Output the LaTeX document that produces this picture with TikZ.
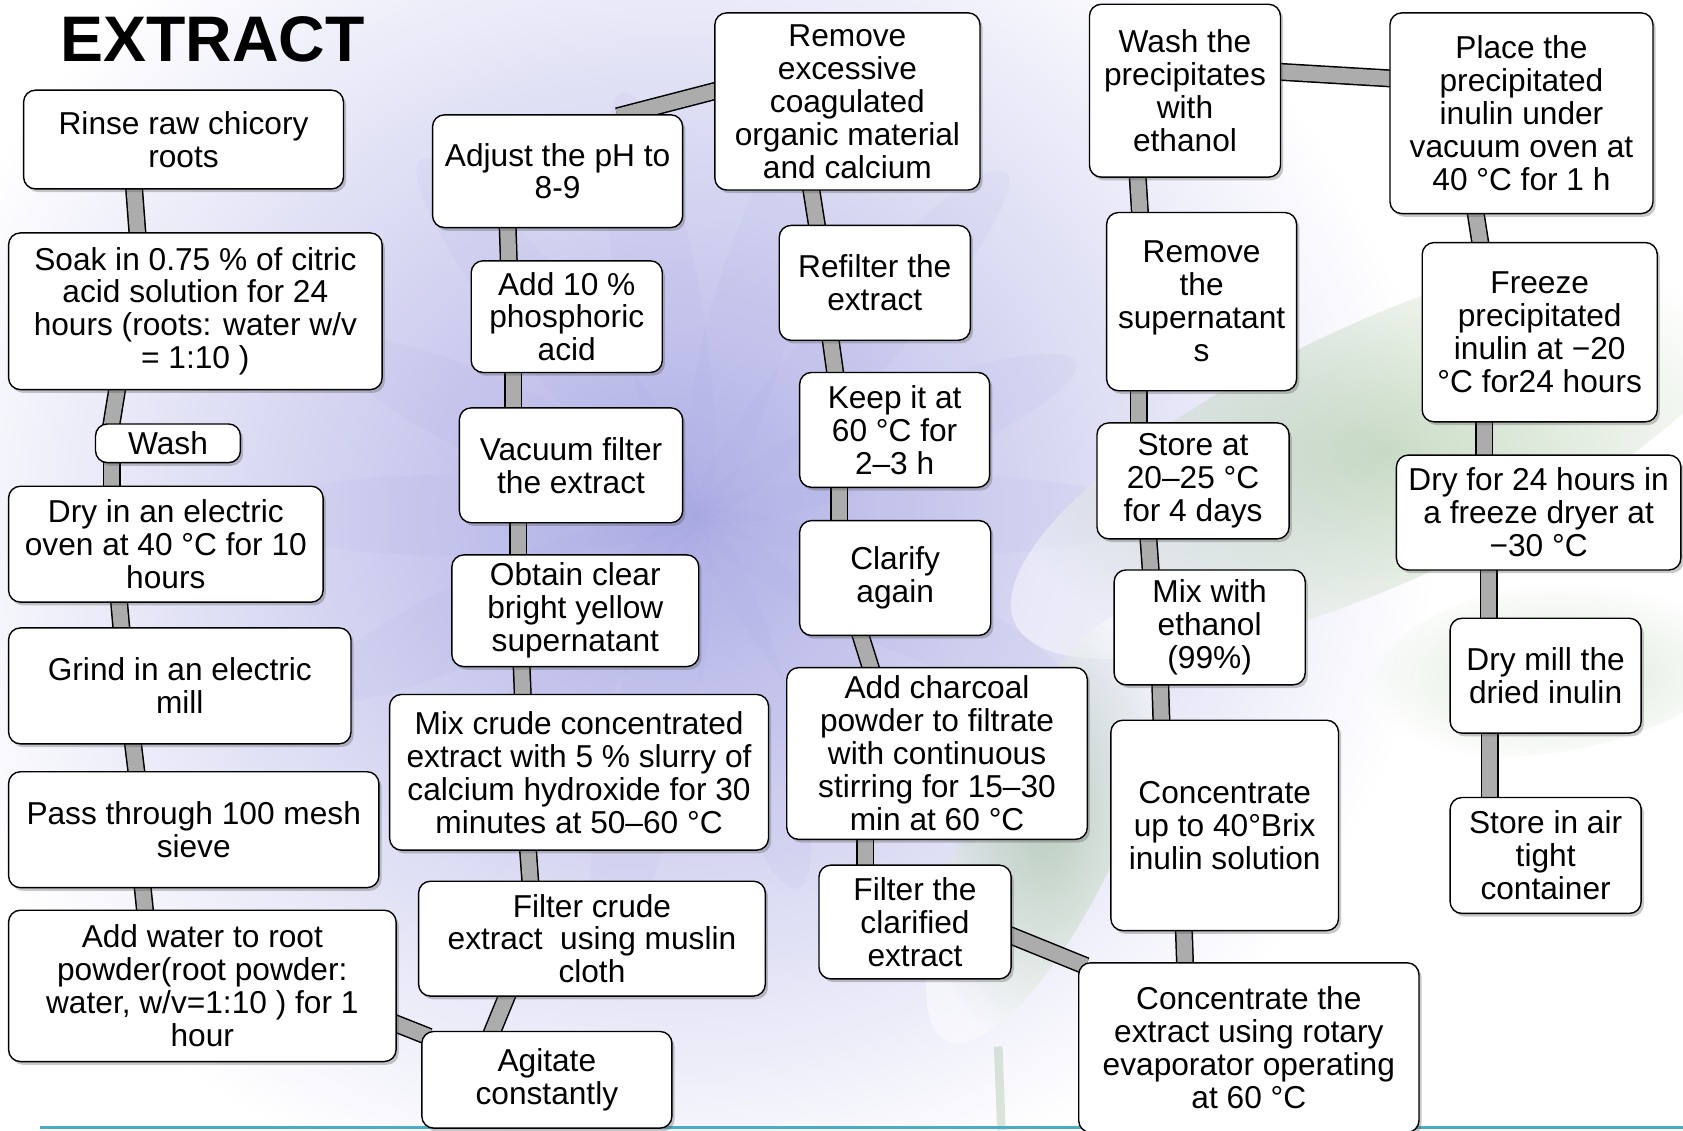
\documentclass[tikz,border=0pt]{standalone}
\usepackage{fontspec}
\setmainfont{Liberation Sans}
\usetikzlibrary{calc,shadows}
\pgfdeclarelayer{background}
\pgfdeclarelayer{bars}
\pgfsetlayers{background,bars,main}
\definecolor{bargray}{RGB}{172,172,172}
\definecolor{lav}{RGB}{176,176,230}
\definecolor{lavpetal}{RGB}{160,160,225}
\definecolor{leafg}{RGB}{140,180,130}
\definecolor{tealline}{RGB}{75,172,198}
\tikzset{
  box/.style={draw=black, line width=1.3pt, fill=white, rounded corners=11pt,
    align=center, inner sep=2pt, font=\fontsize{29.5}{30.7}\selectfont,
    drop shadow={shadow xshift=2.5pt, shadow yshift=-3pt, opacity=0.3, fill=black!70}},
  bar/.style={draw=black, line width=1.4pt, double=bargray, double distance=14pt,
    shorten <=-8pt, shorten >=-8pt, line cap=butt},
  titletext/.style={font=\fontsize{60}{60}\selectfont\bfseries, inner sep=0pt, anchor=base west},
  leaf/.style={inner color=leafg, outer color=white, opacity=0.45},
}
\newcommand{\fbx}[6]{\node[box, minimum width={(#4-#2)*1pt}, minimum height={(#5-#3)*1pt}] (#1) at ({(#2+#4)/2},{(#3+#5)/2}) {#6};}
\begin{document}
\begin{tikzpicture}[x=1pt,y=-1pt]
\useasboundingbox (0,0) rectangle (1568,1053);
% background
\begin{pgfonlayer}{background}
\begin{scope}
\clip (0,0) rectangle (1568,1053);
\fill[white] (0,0) rectangle (1568,1053);
\shade[inner color=lav, outer color=white] (620,480) ellipse [x radius=720, y radius=660];
\foreach \a/\l in {0/420,22/380,48/430,75/360,100/400,128/420,155/380,180/430,205/400,232/380,258/420,285/360,310/400,335/380}{
  \fill[lavpetal, opacity=0.08, rotate around={\a:(650,480)}] (650+\l/2,480) ellipse [x radius=\l/2, y radius=38];
}
\shade[leaf, rotate around={25:(1290,420)}] (1290,420) ellipse [x radius=380, y radius=120];
\shade[leaf, rotate around={65:(975,770)}] (975,770) ellipse [x radius=220, y radius=70];
\shade[leaf, opacity=0.3, rotate around={10:(1450,620)}] (1450,620) ellipse [x radius=180, y radius=80];
\draw[leafg, opacity=0.3, line width=8pt] (930,975) -- (933,1053);
\end{scope}
\draw[tealline, line width=3.5pt] (37,1050.5) -- (1568,1050.5);
\end{pgfonlayer}
% title
\node[titletext] (title) at (56,57.5) {EXTRACT};
% boxes
\fbx{n1}{22}{84}{320}{176}{Rinse raw chicory\\roots}
\fbx{n2}{8}{217}{356}{363}{Soak in 0.75 \% of citric\\acid solution for 24\\hours (roots: water w/v\\= 1:10 )}
\fbx{n3}{89}{395}{224}{431}{Wash}
\fbx{n4}{8}{453}{301}{561}{Dry in an electric\\oven at 40 °C for 10\\hours}
\fbx{n5}{8}{585}{327}{693}{Grind in an electric\\mill}
\fbx{n6}{8}{719}{353}{827}{Pass through 100 mesh\\sieve}
\fbx{n7}{8}{848}{369}{989}{Add water to root\\powder(root powder:\\water, w/v=1:10 ) for 1\\hour}
\fbx{n8}{393}{961}{626}{1051}{Agitate\\constantly}
\fbx{n9}{390}{821}{713}{928}{Filter crude\\extract\ \ using muslin\\cloth}
\fbx{n10}{363}{647}{716}{792}{Mix crude concentrated\\extract with 5 \% slurry of\\calcium hydroxide for 30\\minutes at 50–60 °C}
\fbx{n11}{421}{517}{651}{621}{Obtain clear\\bright yellow\\supernatant}
\fbx{n12}{428}{380}{636}{487}{Vacuum filter\\the extract}
\fbx{n13}{439}{243}{617}{347}{Add 10 \%\\phosphoric\\acid}
\fbx{n14}{403}{107}{636}{212}{Adjust the pH to\\8-9}
\fbx{n15}{666}{12}{913}{177}{Remove\\excessive\\coagulated\\organic material\\and calcium}
\fbx{n16}{726}{210}{904}{317}{Refilter the\\extract}
\fbx{n17}{745}{347}{922}{454}{Keep it at\\60 °C for\\2–3 h}
\fbx{n18}{745}{485}{923}{592}{Clarify\\again}
\fbx{n19}{733}{622}{1013}{782}{Add charcoal\\powder to filtrate\\with continuous\\stirring for 15–30\\min at 60 °C}
\fbx{n20}{763}{806}{942}{912}{Filter the\\clarified\\extract}
\fbx{n21}{1005}{897}{1322}{1055}{Concentrate the\\extract using rotary\\evaporator operating\\at 60 °C}
\fbx{n22}{1035}{671}{1247}{867}{Concentrate\\up to 40°Brix\\inulin solution}
\fbx{n23}{1038}{531}{1216}{638}{Mix with\\ethanol\\(99\%)}
\fbx{n24}{1022}{394}{1201}{502}{Store at\\20–25 °C\\for 4 days}
\fbx{n25}{1031}{198}{1208}{364}{Remove\\the\\supernatant\\s}
\fbx{n26}{1015}{4}{1193}{165}{Wash the\\precipitates\\with\\ethanol}
\fbx{n27}{1295}{12}{1540}{199}{Place the\\precipitated\\inulin under\\vacuum oven at\\40 °C for 1 h}
\fbx{n28}{1325}{226}{1544}{393}{Freeze\\precipitated\\inulin at −20\\°C for24 hours}
\fbx{n29}{1301}{424}{1566}{531}{Dry for 24 hours in\\a freeze dryer at\\−30 °C}
\fbx{n30}{1351}{576}{1529}{683}{Dry mill the\\dried inulin}
\fbx{n31}{1351}{743}{1529}{851}{Store in air\\tight\\container}
% connectors
\begin{pgfonlayer}{bars}
\draw[bar] (n1.south -| 125,0) -- (n2.north -| 128,0);
\draw[bar] (n2.south -| 109,0) -- (n3.north -| 104,0);
\draw[bar] (n3.south -| 104,0) -- (n4.north -| 104,0);
\draw[bar] (n4.south -| 111,0) -- (n5.north -| 113,0);
\draw[bar] (n5.south -| 124,0) -- (n6.north -| 127,0);
\draw[bar] (n6.south -| 133,0) -- (n7.north -| 135,0);
\draw[bar] (n7.east |- 0,954) -- (n8.west |- 0,963);
\draw[bar] (n8.north -| 459,0) -- (n9.south -| 472,0);
\draw[bar] (n9.north -| 494,0) -- (n10.south -| 492,0);
\draw[bar] (n10.north -| 487,0) -- (n11.south -| 486,0);
\draw[bar] (n11.north -| 483,0) -- (n12.south -| 483,0);
\draw[bar] (n12.north -| 478,0) -- (n13.south -| 478,0);
\draw[bar] (n13.north -| 474,0) -- (n14.south -| 473,0);
\draw[bar] (n14.north -| 583,0) -- (n15.west |- 0,85);
\draw[bar] (n15.south -| 756,0) -- (n16.north -| 761,0);
\draw[bar] (n16.south -| 774,0) -- (n17.north -| 778,0);
\draw[bar] (n17.south -| 782,0) -- (n18.north -| 782,0);
\draw[bar] (n18.south -| 802,0) -- (n19.north -| 811,0);
\draw[bar] (n19.south -| 806,0) -- (n20.north -| 806,0);
\draw[bar] (n20.east |- 0,872) -- (n21.west |- 0,897);
\draw[bar] (n21.north -| 1104,0) -- (n22.south -| 1103,0);
\draw[bar] (n22.north -| 1082,0) -- (n23.south -| 1081,0);
\draw[bar] (n23.north -| 1072,0) -- (n24.south -| 1070,0);
\draw[bar] (n24.north -| 1061,0) -- (n25.south -| 1061,0);
\draw[bar] (n25.north -| 1062,0) -- (n26.south -| 1060,0);
\draw[bar] (n26.east |- 0,67) -- (n27.west |- 0,73);
\draw[bar] (n27.south -| 1375,0) -- (n28.north -| 1379,0);
\draw[bar] (n28.south -| 1383,0) -- (n29.north -| 1383,0);
\draw[bar] (n29.south -| 1387,0) -- (n30.north -| 1387,0);
\draw[bar] (n30.south -| 1388,0) -- (n31.north -| 1388,0);
\end{pgfonlayer}
\end{tikzpicture}
\end{document}
